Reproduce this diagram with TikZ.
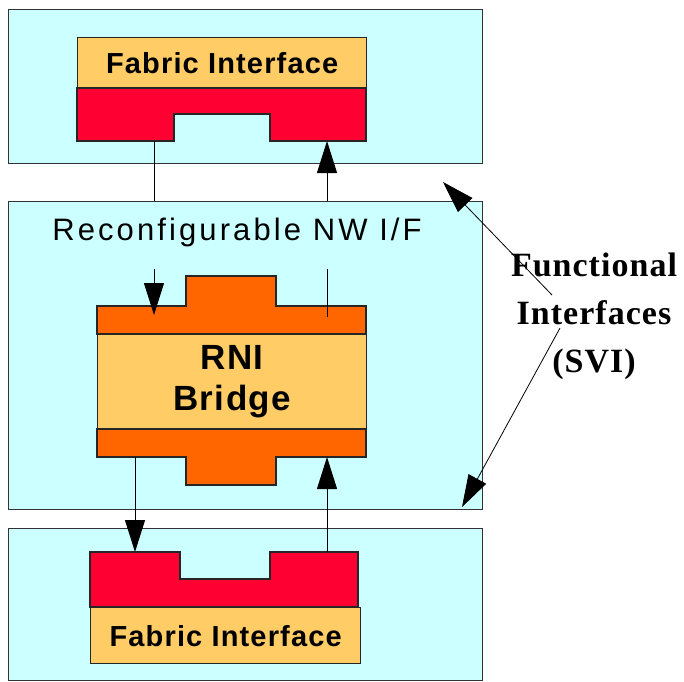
\documentclass[tikz,border=0pt]{standalone}
\usepackage{fontspec}
\setmainfont{Liberation Sans}
\newfontfamily\wideSans{Liberation Sans}[LetterSpace=10]
\newfontfamily\boldSans{Liberation Sans}[LetterSpace=4]
\newfontfamily\sviSerif{Liberation Serif}[LetterSpace=3]
\usetikzlibrary{arrows.meta,positioning}
\definecolor{rniCyan}{RGB}{204,255,255}
\definecolor{rniRed}{RGB}{255,0,51}
\definecolor{rniOrange}{RGB}{255,102,0}
\definecolor{rniYellow}{RGB}{255,204,102}

\begin{document}
\begin{tikzpicture}[
  x=1pt, y=-1pt,
  panel/.style={draw=black!80, line width=1.3pt, fill=rniCyan, inner sep=0pt,
                anchor=north west},
  part/.style={draw=black!85, line width=1.3pt},
  band/.style={part, fill=rniYellow, inner sep=0pt, anchor=north west,
               align=center},
  link/.style={-{Triangle[length=32pt,width=20pt]}, line width=1pt},
  wire/.style={line width=1pt},
  pointer/.style={-{Triangle[length=32pt,width=20pt]}, line width=0.8pt}
]
\useasboundingbox (0,0) rectangle (684,681);

% three panels
\node[panel, minimum width=474pt, minimum height=154pt] (topPanel) at (8,9) {};
\node[panel, minimum width=474pt, minimum height=308pt] (midPanel) at (8,201) {};
\node[panel, minimum width=474pt, minimum height=152pt] (botPanel) at (8,528) {};

% upper fabric interface
\node[band, minimum width=289pt, minimum height=51pt,
      font=\boldSans\bfseries\fontsize{29}{34}\selectfont] (topFabric) at (77,37)
      {Fabric Interface};
\path[part, fill=rniRed] (77,88) -- (366,88) -- (366,141) -- (270,141)
  -- (270,114) -- (174,114) -- (174,141) -- (77,141) -- cycle;
\coordinate (topOut) at (154,141);
\coordinate (topIn) at (327,141);

% RNI bridge
\path[part, fill=rniOrange] (97,306) -- (186,306) -- (186,276) -- (276,276)
  -- (276,306) -- (366,306) -- (366,334) -- (97,334) -- cycle;
\node[band, minimum width=269pt, minimum height=95pt,
      font=\boldSans\bfseries\fontsize{35}{41}\selectfont] (bridge) at (97,334)
      {RNI\\Bridge};
\path[part, fill=rniOrange] (97,429) -- (366,429) -- (366,457) -- (276,457)
  -- (276,485) -- (186,485) -- (186,457) -- (97,457) -- cycle;
\coordinate (bridgeIn) at (154,315);
\coordinate (bridgeOut) at (327,317);
\coordinate (bridgeDown) at (135,457);
\coordinate (bridgeUp) at (327,457);

\node[font=\wideSans\fontsize{31}{36}\selectfont] (nwLabel) at (237,232)
  {Reconfigurable NW I/F};

% lower fabric interface
\path[part, fill=rniRed] (90,552) -- (180,552) -- (180,579) -- (270,579)
  -- (270,552) -- (358,552) -- (358,607) -- (90,607) -- cycle;
\node[band, minimum width=270pt, minimum height=56pt,
      font=\boldSans\bfseries\fontsize{29}{34}\selectfont] (botFabric) at (90,607)
      {\raisebox{-5pt}{Fabric Interface}};
\coordinate (botIn) at (135,552);
\coordinate (botOut) at (327,552);

% links between the blocks
\draw[wire] (topOut) -- (topOut |- midPanel.north);
\draw[link] (topIn |- midPanel.north) -- (topIn);
\draw[link] (bridgeIn |- 0,269) -- (bridgeIn);
\draw[wire] (bridgeOut |- 0,269) -- (bridgeOut);
\draw[link] (bridgeDown) -- (botIn);
\draw[link] (botOut) -- (bridgeUp);

% functional interfaces
\coordinate (sviTop) at (552,295);
\coordinate (sviBot) at (560,328);
\coordinate (gapTop) at (443,182);
\coordinate (gapBot) at (462,507);
\draw[pointer] (sviTop) -- (gapTop);
\draw[pointer] (sviBot) -- (gapBot);
\node[font=\sviSerif\bfseries\fontsize{34}{48}\selectfont, align=center]
  (sviLabel) at (594,316) {Functional\\Interfaces\\(SVI)};
\end{tikzpicture}
\end{document}
